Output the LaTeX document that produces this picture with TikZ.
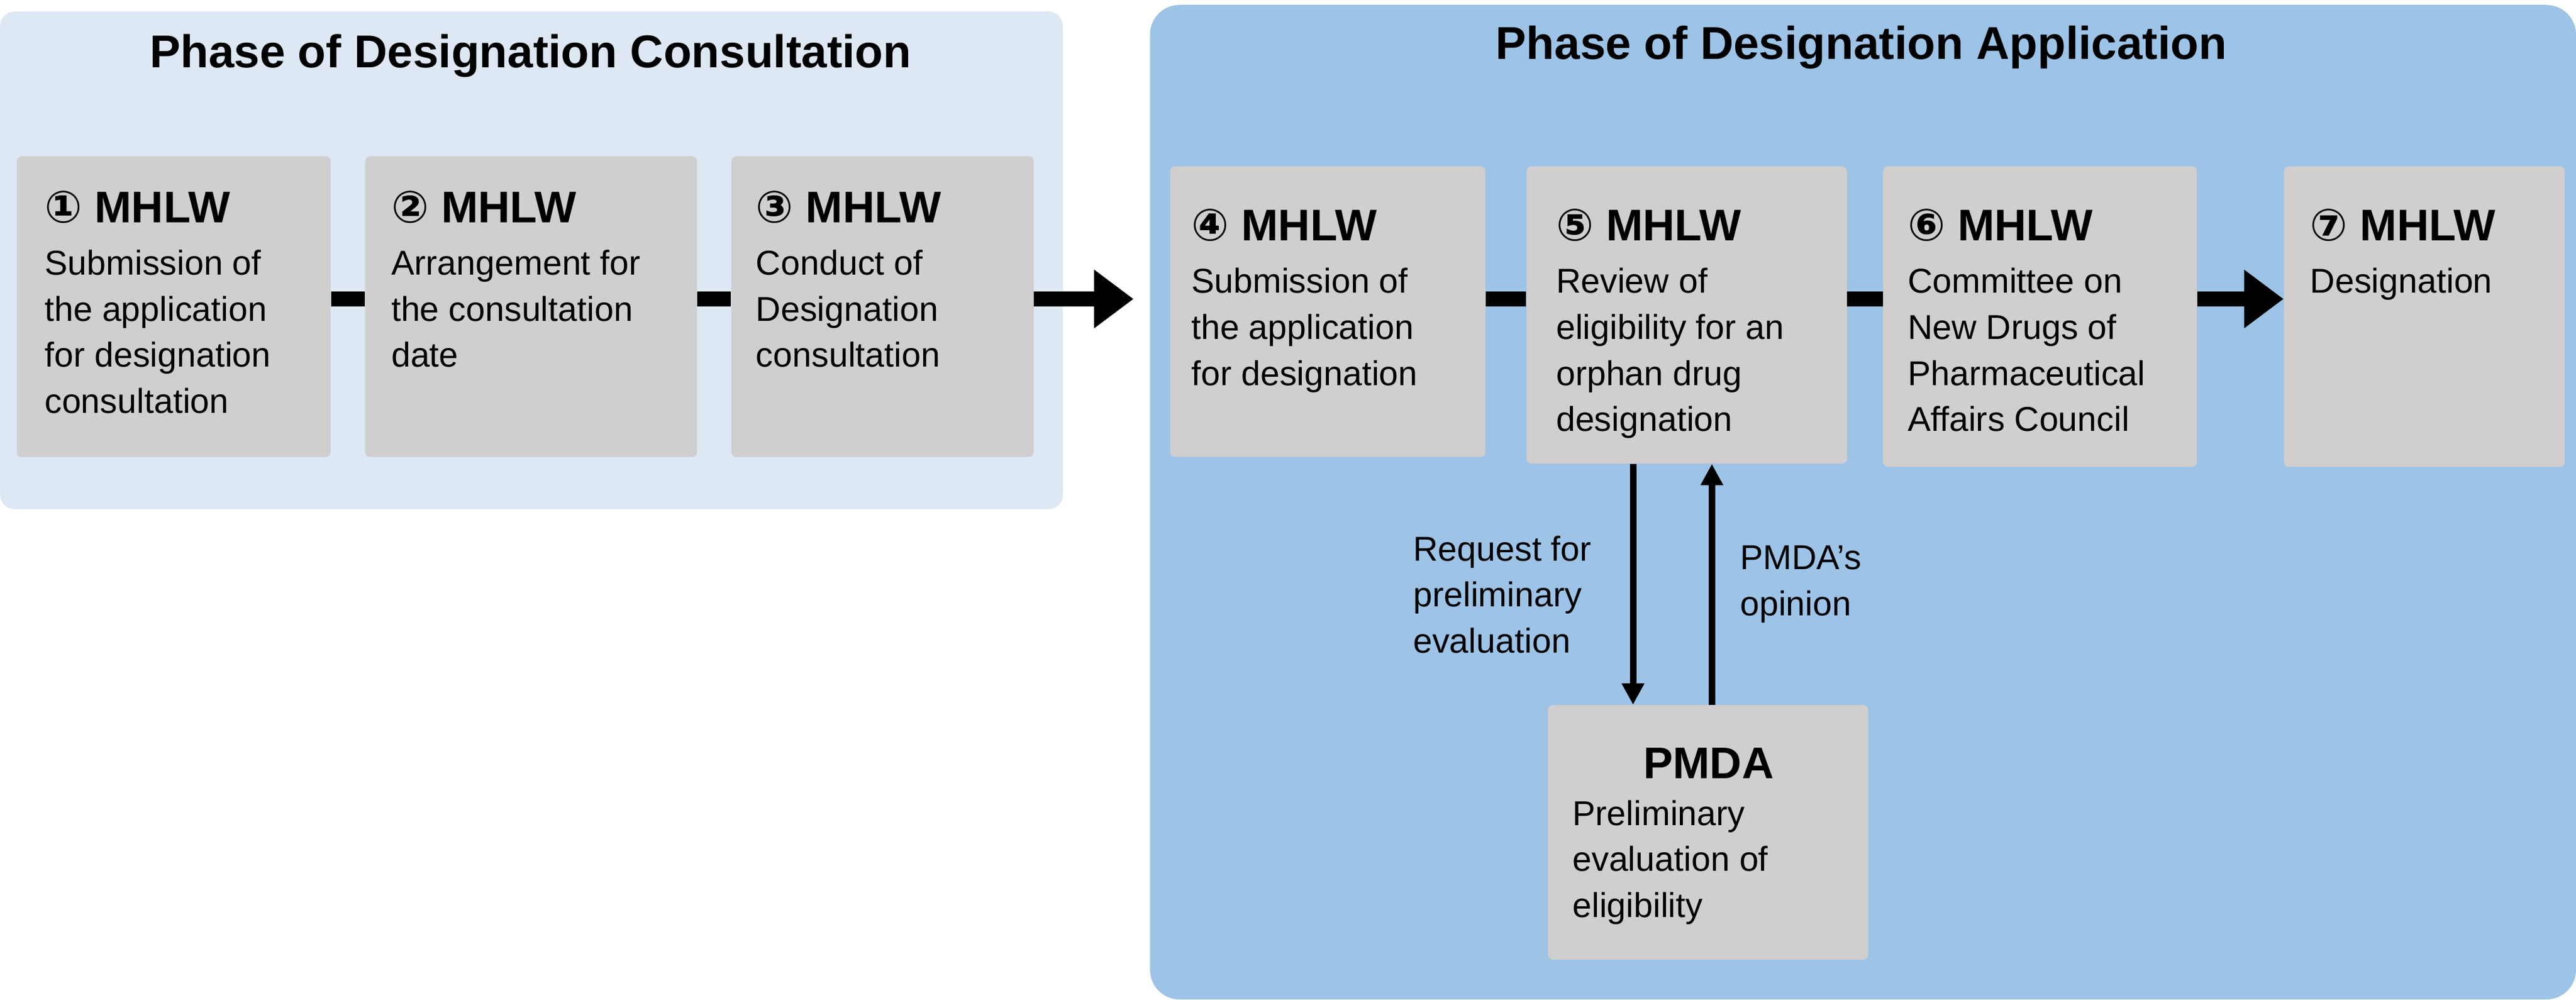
\documentclass[tikz,border=0pt]{standalone}
\usepackage{fontspec}
\setmainfont{Liberation Sans}
\newfontfamily\dvs{DejaVu Sans}
\newcommand\hdf{\fontsize{27}{30}\selectfont\bfseries}
\usetikzlibrary{arrows.meta,calc}
\begin{document}
\begin{tikzpicture}[x=1pt,y=-1pt,
 panelA/.style={fill=panelL,draw=none,rounded corners=9pt},
 panelB/.style={fill=panelD,draw=none,rounded corners=18pt},
 box/.style={fill=boxg,draw=none,rounded corners=3pt,anchor=north west,inner sep=0pt},
 txt/.style={anchor=north west,align=left,inner sep=0pt,font=\fontsize{21}{28}\selectfont},
 head/.style={font=\hdf},
 title/.style={font=\fontsize{28}{32}\selectfont\bfseries},
 conn/.style={line width=9pt},
 bigarrow/.style={line width=9pt,-{Triangle[length=24pt,width=34pt]}},
 varrow/.style={line width=4pt,-{Triangle[length=13pt,width=13pt]}},
 lbl/.style={anchor=north west,align=left,inner sep=0pt,font=\fontsize{21}{28}\selectfont}]
\definecolor{panelL}{HTML}{DEE8F4}
\definecolor{panelD}{HTML}{9DC3E6}
\definecolor{boxg}{HTML}{D0CECE}
\useasboundingbox (0,0) rectangle (1568,608.4);
\fill[panelA] (0,7) rectangle (647,310);
\fill[panelB] (700,3) rectangle (1568,608.4);
\node[title] (tA) at (323,34) {Phase of Designation Consultation};
\node[title] (tB) at (1133,29) {Phase of Designation Application};
% boxes
\node[box,minimum width=191pt,minimum height=183pt] (b1) at (10,95) {};
\node[box,minimum width=202pt,minimum height=183pt] (b2) at (222,95) {};
\node[box,minimum width=184pt,minimum height=183pt] (b3) at (445,95) {};
\node[box,minimum width=192pt,minimum height=177pt] (b4) at (712,101) {};
\node[box,minimum width=195pt,minimum height=181pt] (b5) at (929,101) {};
\node[box,minimum width=191pt,minimum height=183pt] (b6) at (1146,101) {};
\node[box,minimum width=171pt,minimum height=183pt] (b7) at (1390,101) {};
\node[box,minimum width=195pt,minimum height=155pt] (pm) at (942,429) {};
% texts
\node[txt] (x1) at (27,116) {{\hdf{\dvs ①} MHLW}\\[4pt]Submission of\\the application\\for designation\\consultation};
\node[txt] (x2) at (238,116) {{\hdf{\dvs ②} MHLW}\\[4pt]Arrangement for\\the consultation\\date};
\node[txt] (x3) at (460,116) {{\hdf{\dvs ③} MHLW}\\[4pt]Conduct of\\Designation\\consultation};
\node[txt] (x4) at (725,127) {{\hdf{\dvs ④} MHLW}\\[4pt]Submission of\\the application\\for designation};
\node[txt] (x5) at (947,127) {{\hdf{\dvs ⑤} MHLW}\\[4pt]Review of\\eligibility for an\\orphan drug\\designation};
\node[txt] (x6) at (1161,127) {{\hdf{\dvs ⑥} MHLW}\\[4pt]Committee on\\New Drugs of\\Pharmaceutical\\Affairs Council};
\node[txt] (x7) at (1406,127) {{\hdf{\dvs ⑦} MHLW}\\[4pt]Designation};
\node[head,anchor=north] (xp) at (1040,452) {PMDA};
\node[txt] (xq) at (957,487) {Preliminary\\evaluation of\\eligibility};
% connectors
\coordinate (gate) at (690,182);
\draw[conn] (b1.east |- 0,182) -- (b2.west |- 0,182);
\draw[conn] (b2.east |- 0,182) -- (b3.west |- 0,182);
\draw[bigarrow] (b3.east |- 0,182) -- (gate);
\draw[conn] (b4.east |- 0,182) -- (b5.west |- 0,182);
\draw[conn] (b5.east |- 0,182) -- (b6.west |- 0,182);
\draw[bigarrow] (b6.east |- 0,182) -- (b7.west |- 0,182);
\draw[varrow] (b5.south -| 994,0) -- (pm.north -| 994,0);
\draw[varrow] (pm.north -| 1042,0) -- (b5.south -| 1042,0);
\node[lbl] (l1) at (860,326) {Request for\\preliminary\\evaluation};
\node[lbl] (l2) at (1059,332) {PMDA’s\\opinion};
\end{tikzpicture}
\end{document}
